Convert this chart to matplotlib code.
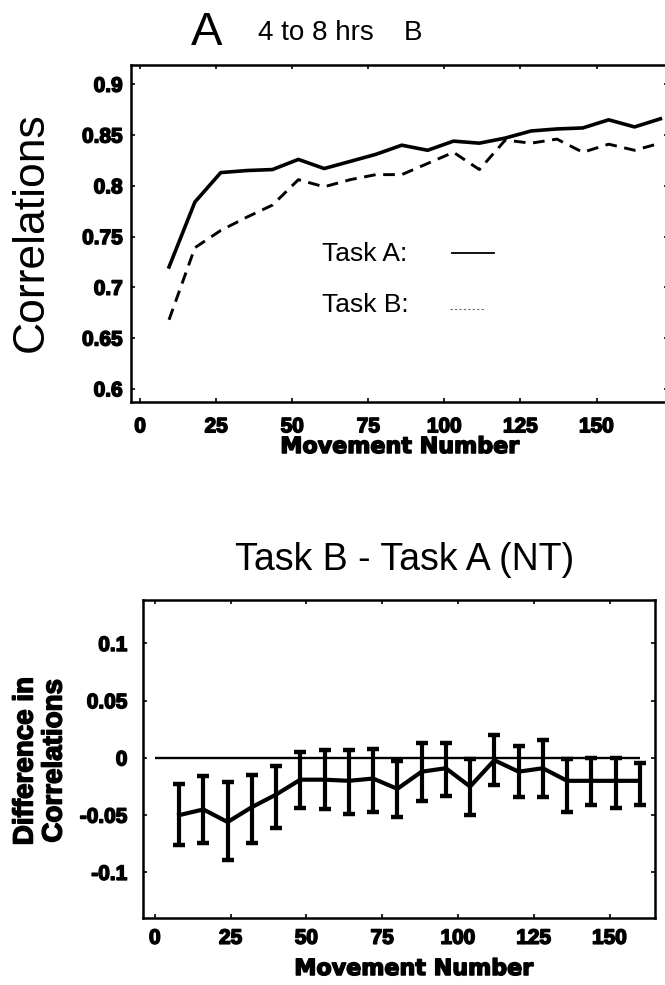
import matplotlib.pyplot as plt
import matplotlib.patheffects as pe

plt.rcParams['font.family'] = ['Liberation Sans', 'DejaVu Sans']

# --- correlation curves (4 to 8 hrs) ---
mov_top = [9.5, 18, 26.5, 35, 43.5, 52, 60.5, 69, 77.5, 86,
           94.5, 103, 111.5, 120, 128.5, 137, 145.5, 154, 162.5, 171]
task_a = [0.720, 0.784, 0.813, 0.815, 0.816, 0.826, 0.817, 0.824, 0.831, 0.840,
          0.835, 0.844, 0.842, 0.847, 0.854, 0.856, 0.857, 0.865, 0.858, 0.866]
task_b = [0.668, 0.739, 0.756, 0.769, 0.781, 0.806, 0.799, 0.806, 0.811, 0.811,
          0.822, 0.833, 0.816, 0.845, 0.842, 0.846, 0.833, 0.841, 0.835, 0.842]

# --- Task B - Task A difference with error bars ---
mov_diff = [8, 16, 24, 32, 40, 48, 56, 64, 72, 80,
            88, 96, 104, 112, 120, 128, 136, 144, 152, 160]
diff_mean = [-0.050, -0.045, -0.056, -0.043, -0.032, -0.019, -0.019, -0.020, -0.018, -0.027,
             -0.012, -0.009, -0.025, -0.002, -0.012, -0.009, -0.020, -0.020, -0.020, -0.020]
diff_hi = [-0.023, -0.016, -0.021, -0.015, -0.007, 0.005, 0.007, 0.007, 0.008, -0.003,
           0.013, 0.013, -0.001, 0.020, 0.010, 0.016, -0.001, 0.000, 0.000, -0.004]
diff_lo = [-0.076, -0.074, -0.089, -0.074, -0.061, -0.044, -0.045, -0.049, -0.047, -0.052,
           -0.038, -0.033, -0.050, -0.024, -0.034, -0.034, -0.047, -0.041, -0.044, -0.041]

x_ticks = [0, 25, 50, 75, 100, 125, 150]
top_yticks = [0.6, 0.65, 0.7, 0.75, 0.8, 0.85, 0.9]
top_ylabels = ['0.6', '0.65', '0.7', '0.75', '0.8', '0.85', '0.9']
diff_yticks = [-0.1, -0.05, 0, 0.05, 0.1]
diff_ylabels = ['-0.1', '-0.05', '0', '0.05', '0.1']

W, H = 665, 985
fig = plt.figure(figsize=(W / 100, H / 100), dpi=100)

# heavy look for the bold labels
heavy = [pe.withStroke(linewidth=1.1, foreground='black')]


def fx(px):
    return px / W


def fy(py):
    return 1 - py / H


def style_axes(ax, ypad):
    for sp in ax.spines.values():
        sp.set_linewidth(1.8)
    ax.tick_params(direction='in', length=3, width=1.2, top=True, right=True,
                   labelsize=15)
    ax.tick_params(axis='y', pad=ypad)
    for lab in ax.get_xticklabels() + ax.get_yticklabels():
        lab.set_fontweight('bold')
        lab.set_path_effects(heavy)


# ===== top panel =====
ax1 = fig.add_axes([fx(131), fy(402), (668 - 131) / W, (402 - 65) / H])
ax1.plot(mov_top, task_a, color='black', lw=2.6)
ax1.plot(mov_top, task_b, color='black', lw=2.1, ls=(0, (4, 2.6)))
ax1.set_xlim(-3, 173.5)
ax1.set_ylim(0.587, 0.919)
ax1.set_xticks(x_ticks)
ax1.set_yticks(top_yticks)
ax1.set_yticklabels(top_ylabels)
ax1.tick_params(axis='x', pad=11)
style_axes(ax1, 6)

# hand-made key
ax1.text(0.356, 0.439, 'Task A:', transform=ax1.transAxes, fontsize=19, va='center')
ax1.plot([0.598, 0.676], [0.443, 0.443], transform=ax1.transAxes, color='black', lw=1.3)
ax1.text(0.356, 0.288, 'Task B:', transform=ax1.transAxes, fontsize=19, va='center')
ax1.plot([0.594, 0.659], [0.276, 0.276], transform=ax1.transAxes, color='#666666',
         lw=0.8, ls=(0, (2, 2)))

fig.text(fx(31), fy(232), 'Correlations', rotation=90, ha='center', va='center',
         fontsize=32)
fig.text(fx(400), fy(453), 'Movement Number', ha='center', va='baseline',
         fontsize=16, fontweight='bold', family='DejaVu Sans', path_effects=heavy)

fig.text(fx(207), fy(45), 'A', ha='center', va='baseline', fontsize=34)
fig.text(fx(316), fy(40), '4 to 8 hrs', ha='center', va='baseline', fontsize=20)
fig.text(fx(413), fy(40), 'B', ha='center', va='baseline', fontsize=20)

# ===== bottom panel =====
ax2 = fig.add_axes([fx(142.7), fy(917.7), (655 - 142.7) / W, (917.7 - 600) / H])
ax2.hlines(0, 0, max(mov_diff), color='black', lw=1.7)
yerr = [[m - lo for m, lo in zip(diff_mean, diff_lo)],
        [hi - m for m, hi in zip(diff_mean, diff_hi)]]
ax2.errorbar(mov_diff, diff_mean, yerr=yerr, color='black', lw=3.0,
             elinewidth=3.0, capsize=4, capthick=3.2)
ax2.set_xlim(-4, 165)
ax2.set_ylim(-0.1396, 0.138)
ax2.set_xticks(x_ticks)
ax2.set_yticks(diff_yticks)
ax2.set_yticklabels(diff_ylabels)
ax2.tick_params(axis='x', pad=8)
style_axes(ax2, 11)

fig.text(fx(405), fy(570), 'Task B - Task A (NT)', ha='center', va='baseline',
         fontsize=27)
fig.text(fx(40), fy(761), 'Difference in\nCorrelations', rotation=90, ha='center',
         va='center', fontsize=20, fontweight='bold', linespacing=1.15,
         path_effects=heavy)
fig.text(fx(414), fy(975), 'Movement Number', ha='center', va='baseline',
         fontsize=16, fontweight='bold', family='DejaVu Sans', path_effects=heavy)

fig.savefig('out.png', dpi=100)
